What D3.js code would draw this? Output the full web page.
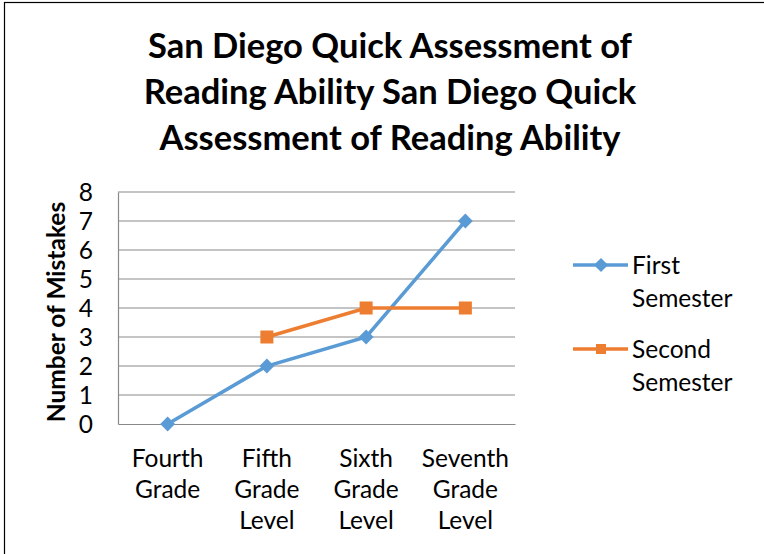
<!DOCTYPE html>
<meta charset="utf-8">
<style>
  body { margin: 0; background: #fff; }
  svg { display: block; font-family: Lato, "Noto Sans", sans-serif; }
</style>
<script src="https://d3js.org/d3.v7.min.js"></script>
<div id="chart"></div>
<script>
// data
var categories = ["Fourth Grade", "Fifth Grade Level", "Sixth Grade Level", "Seventh Grade Level"];
var catLines = [["Fourth", "Grade"], ["Fifth", "Grade", "Level"], ["Sixth", "Grade", "Level"], ["Seventh", "Grade", "Level"]];
var firstSemester = [0, 2, 3, 7];
var secondSemester = [null, 3, 4, 4];
var yTicks = [0, 1, 2, 3, 4, 5, 6, 7, 8];
var titleLines = ["San Diego Quick Assessment of", "Reading Ability San Diego Quick", "Assessment of Reading Ability"];

const blue = "#5b9bd5", orange = "#ed7d31";
const fs = 24.5;

var W = 764, H = 554;
var plot = {left: 118, right: 515, top: 192, bottom: 424};

var svg = d3.select("#chart").append("svg")
  .attr("width", W).attr("height", H);

svg.append("rect").attr("x", 4.5).attr("y", 2.5)
  .attr("width", W + 10).attr("height", H + 10)
  .attr("fill", "#fff").attr("stroke", "#000").attr("stroke-width", 1.2);

// title
svg.append("g").selectAll("text")
  .data(titleLines).enter().append("text")
    .attr("x", 390).attr("y", (d, i) => 58 + i * 46)
    .attr("text-anchor", "middle")
    .attr("font-size", 34.5).attr("font-weight", "bold")
    .text(d => d);

var x = d3.scaleBand().domain(categories).range([plot.left, plot.right]);
var y = d3.scaleLinear().domain([0, 8]).range([plot.bottom, plot.top]);

// gridlines
svg.append("g").selectAll("line")
  .data(yTicks.slice(1)).enter().append("line")
    .attr("x1", plot.left).attr("x2", plot.right)
    .attr("y1", d => y(d)).attr("y2", d => y(d))
    .attr("stroke", "#898989").attr("stroke-width", 1.2);

// y axis
var yAxis = svg.append("g")
  .attr("transform", "translate(" + plot.left + ",0)")
  .call(d3.axisLeft(y).tickValues(yTicks).tickSize(0).tickPadding(25));
yAxis.select(".domain").attr("stroke", "#898989").attr("stroke-width", 1.2);
yAxis.selectAll("text").attr("font-size", fs).attr("font-family", "Lato, sans-serif").attr("fill", "#000")
  .attr("dy", "0.36em");

// x axis baseline
var xAxis = svg.append("g")
  .attr("transform", "translate(0," + plot.bottom + ")")
  .call(d3.axisBottom(x).tickSize(0).tickFormat(""));
xAxis.select(".domain").attr("stroke", "#898989").attr("stroke-width", 1.2);

// x labels (wrapped)
var xl = svg.append("g").selectAll("text")
  .data(categories).enter().append("text")
    .attr("text-anchor", "middle")
    .attr("font-size", fs);
xl.each(function(d, i) {
  d3.select(this).selectAll("tspan").data(catLines[i]).enter().append("tspan")
    .attr("x", x(d) + x.bandwidth() / 2)
    .attr("y", (t, j) => 467 + j * 31)
    .text(t => t);
});

// y label
svg.append("text")
  .attr("transform", "translate(65,312) rotate(-90)")
  .attr("text-anchor", "middle")
  .attr("font-size", fs).attr("font-weight", "bold")
  .text("Number of Mistakes");

var line = d3.line()
  .defined(d => d.v != null)
  .x(d => x(d.c) + x.bandwidth() / 2)
  .y(d => y(d.v));

function pts(vals) { return categories.map((c, i) => ({c: c, v: vals[i]})); }

svg.append("path").datum(pts(firstSemester))
  .attr("d", line).attr("fill", "none").attr("stroke", blue).attr("stroke-width", 3.5);
svg.append("path").datum(pts(secondSemester))
  .attr("d", line).attr("fill", "none").attr("stroke", orange).attr("stroke-width", 3.5);

var diamond = d3.symbol().type(d3.symbolSquare).size(110);
svg.append("g").selectAll("path")
  .data(pts(firstSemester).filter(d => d.v != null)).enter().append("path")
    .attr("d", diamond)
    .attr("transform", d => "translate(" + (x(d.c) + x.bandwidth() / 2) + "," + y(d.v) + ") rotate(45)")
    .attr("fill", blue);

svg.append("g").selectAll("rect")
  .data(pts(secondSemester).filter(d => d.v != null)).enter().append("rect")
    .attr("x", d => x(d.c) + x.bandwidth() / 2 - 6.5)
    .attr("y", d => y(d.v) - 6.5)
    .attr("width", 13).attr("height", 13)
    .attr("fill", orange);

// legend
var legend = [
  {name: ["First", "Semester"], color: blue, shape: "diamond", y: 265},
  {name: ["Second", "Semester"], color: orange, shape: "square", y: 349}
];
var lg = svg.append("g").selectAll("g").data(legend).enter().append("g");
lg.append("line").attr("x1", 573).attr("x2", 628)
  .attr("y1", d => d.y).attr("y2", d => d.y)
  .attr("stroke", d => d.color).attr("stroke-width", 3.5);
lg.append("path")
  .attr("d", d3.symbol().type(d3.symbolSquare).size(d => 100))
  .attr("transform", d => "translate(601," + d.y + ")" + (d.shape == "diamond" ? " rotate(45)" : ""))
  .attr("fill", d => d.color);
lg.append("text").attr("font-size", fs)
  .each(function(d) {
    d3.select(this).selectAll("tspan").data(d.name).enter().append("tspan")
      .attr("x", 632).attr("y", (t, j) => d.y + 9 + j * 33)
      .text(t => t);
  });
</script>
